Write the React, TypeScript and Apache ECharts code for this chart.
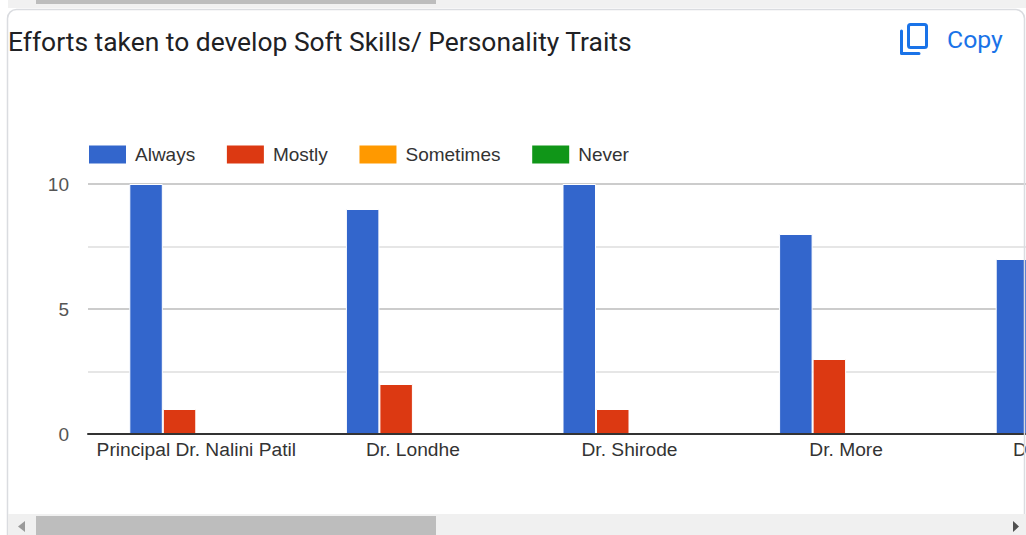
import React, { useEffect, useRef } from "react";
import * as echarts from "echarts";

const categories = ["Principal Dr. Nalini Patil", "Dr. Londhe", "Dr. Shirode", "Dr. More", "Dr. Kulkarni"];
const always = [10, 9, 10, 8, 7];
const mostly = [1, 2, 1, 3, 4];
const sometimes = [0, 0, 0, 0, 0];
const never = [0, 0, 0, 0, 0];
const yTicks = { min: 0, max: 10, interval: 5 };
const titleText = "Efforts taken to develop Soft Skills/ Personality Traits";

const FONT = "'Liberation Sans', Arial, sans-serif";

export default function App() {
  const ref = useRef<HTMLDivElement>(null);
  useEffect(() => {
    document.body.style.margin = "0";
    const chart = echarts.init(ref.current!, null, { renderer: "svg" });
    const bar = (name: string, data: number[], color: string) => ({
      name,
      type: "bar",
      data,
      barWidth: 33.5,
      barGap: "0%",
      itemStyle: { color, borderColor: "#fff", borderWidth: 1 },
    });
    chart.setOption({
      animation: false,
      backgroundColor: "#fff",
      legend: {
        left: 84,
        top: 140,
        padding: 5,
        itemWidth: 37,
        itemHeight: 18,
        itemGap: 31.7,
        icon: "rect",
        textStyle: { fontFamily: FONT, fontSize: 19, color: "#333", padding: [0, 0, 0, 4] },
        itemStyle: { borderWidth: 0 },
        data: ["Always", "Mostly", "Sometimes", "Never"],
      },
      grid: { left: 88, top: 184, width: 1083, height: 250, containLabel: false },
      xAxis: {
        type: "category",
        z: 10,
        data: categories,
        axisLine: { lineStyle: { color: "#333", width: 2 } },
        axisTick: { show: false },
        axisLabel: { fontFamily: FONT, fontSize: 19.2, color: "#333", margin: 6, interval: 0 },
      },
      yAxis: {
        type: "value",
        ...yTicks,
        axisLine: { show: false },
        axisTick: { show: false },
        axisLabel: { fontFamily: FONT, fontSize: 19, color: "#555", margin: 19 },
        splitLine: { lineStyle: { color: "#ccc", width: 2 } },
        minorTick: { show: false, splitNumber: 2 },
        minorSplitLine: { show: true, lineStyle: { color: "#e6e6e6", width: 2 } },
      },
      series: [
        bar("Always", always, "#3366cc"),
        bar("Mostly", mostly, "#dc3912"),
        bar("Sometimes", sometimes, "#ff9900"),
        bar("Never", never, "#109618"),
      ],
      graphic: [
        { type: "rect", z: 100, shape: { x: 0, y: 0, width: 1200, height: 8 }, style: { fill: "#f1f1f1" } },
        { type: "rect", z: 100, shape: { x: 0, y: 0, width: 8, height: 8 }, style: { fill: "#fff" } },
        { type: "rect", z: 101, shape: { x: 36, y: 0, width: 400, height: 4 }, style: { fill: "#bdbdbd" } },
        { type: "rect", z: 99, shape: { x: 7.5, y: 9.5, width: 1017, height: 560, r: 9 }, style: { fill: "none", stroke: "#dadce0", lineWidth: 1.5 } },
        { type: "rect", z: 100, shape: { x: 8, y: 514, width: 1018, height: 21 }, style: { fill: "#f0f0f0" } },
        { type: "rect", z: 101, shape: { x: 36, y: 516, width: 400, height: 19 }, style: { fill: "#bdbdbd" } },
        { type: "polygon", z: 101, shape: { points: [[25, 521], [25, 532], [18, 526.5]] }, style: { fill: "#9a9a9a" } },
        { type: "polygon", z: 101, shape: { points: [[1013, 521], [1013, 532], [1019, 526.5]] }, style: { fill: "#505050" } },
        { type: "text", z: 101, x: 8, y: 29, style: { text: titleText, fontFamily: "Roboto", fontSize: 26.4, fill: "#202124" } },
        { type: "rect", z: 101, shape: { x: 908.5, y: 24.5, width: 18, height: 23, r: 2 }, style: { fill: "none", stroke: "#1a73e8", lineWidth: 3 } },
        { type: "polyline", z: 101, shape: { points: [[901.5, 31], [901.5, 53.5], [919, 53.5]] }, style: { fill: "none", stroke: "#1a73e8", lineWidth: 3, lineJoin: "round", lineCap: "round" } },
        { type: "text", z: 101, x: 947, y: 27, style: { text: "Copy", fontFamily: "Roboto", fontSize: 24.8, fill: "#1a73e8" } },
      ],
    });
    return () => chart.dispose();
  }, []);
  return (
    <div style={{ width: 1026, height: 535, overflow: "hidden" }}>
      <div ref={ref} style={{ width: 1200, height: 535 }} />
    </div>
  );
}
